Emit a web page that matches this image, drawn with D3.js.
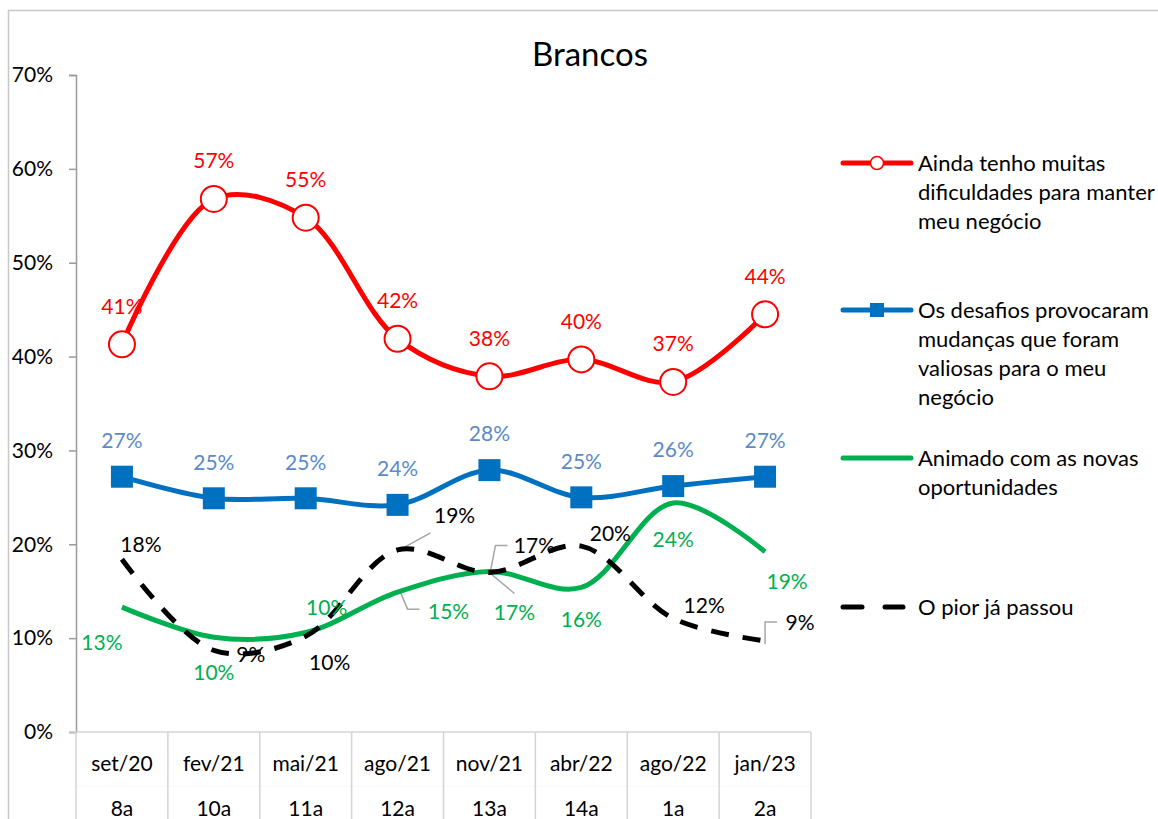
<!DOCTYPE html>
<html>
<head>
<meta charset="utf-8">
<script src="https://cdn.jsdelivr.net/npm/d3@7"></script>
<style>
    body { margin: 0; background: #fff; }
    text { font-family: Lato, "Open Sans", sans-serif; }
</style>
</head>
<body>
<script>
"use strict";

const periods = ["set/20", "fev/21", "mai/21", "ago/21", "nov/21", "abr/22", "ago/22", "jan/23"];
const waves   = ["8a", "10a", "11a", "12a", "13a", "14a", "1a", "2a"];
const yTicks  = [0, 10, 20, 30, 40, 50, 60, 70];

const dificuldades = [41.3, 56.8, 54.8, 41.9, 37.9, 39.7, 37.3, 44.5];
const desafios     = [27.2, 24.9, 24.9, 24.2, 27.9, 25.0, 26.2, 27.2];
const animado      = [13.3, 10.1, 10.6, 14.9, 17.1, 15.4, 24.4, 19.2];
const piorPassou   = [18.4, 8.7, 10.2, 19.4, 17.0, 19.8, 12.1, 9.7];

const dificuldadesLbl = [41, 57, 55, 42, 38, 40, 37, 44];
const desafiosLbl     = [27, 25, 25, 24, 28, 25, 26, 27];
const animadoLbl      = [13, 10, 10, 15, 17, 16, 24, 19];
const piorPassouLbl   = [18, 9, 10, 19, 17, 20, 12, 9];

// label offsets (layout only), [dx, dy] from the point
const offRed   = periods.map(() => [0, -38]);
const offBlue  = periods.map(() => [0, -36]);
const offGreen = [[-20, 35], [0, 35], [21, -25], [51, 19], [25, 41], [0, 32], [0, 37], [22, 30]];
const offBlack = [[19, -15], [37, 4], [24, 26], [57, -34], [45, -27], [29, -13], [31, -13], [35, -18]];

const W = 1158, H = 819;
const margin = { left: 76, top: 75, right: 347, bottom: 87 };
const fontSize = 21;

const svg = d3.select("body").append("svg")
    .attr("width", W)
    .attr("height", H);

// chart border
svg.append("path")
   .attr("d", `M8.5,${H} V10.5 H${W}`)
   .attr("fill", "none")
   .attr("stroke", "#c8c8c8")
   .attr("stroke-width", 1.5);

const x = d3.scaleBand()
            .domain(periods)
            .range([margin.left, W - margin.right]);
const y = d3.scaleLinear()
            .domain([0, 70])
            .range([H - margin.bottom, margin.top]);
const cx = d => x(d) + x.bandwidth() / 2;

svg.append("text")
   .attr("x", 590)
   .attr("y", 66)
   .attr("text-anchor", "middle")
   .attr("font-size", 33)
   .text("Brancos");

// y axis
const yAxis = svg.append("g")
    .attr("transform", `translate(${margin.left},0)`)
    .call(d3.axisLeft(y).tickValues(yTicks).tickSize(7).tickPadding(16)
             .tickFormat(d => d + "%"));
yAxis.select(".domain").attr("stroke", "#9a9a9a").attr("stroke-width", 1.5);
yAxis.selectAll(".tick line").attr("stroke", "#9a9a9a").attr("stroke-width", 1.5);
yAxis.selectAll(".tick text")
     .attr("font-size", fontSize)
     .attr("fill", "#000")
     .style("font-family", "Lato, sans-serif");

// category table under the plot
const base = y(0);
const table = svg.append("g");
table.append("line")
     .attr("x1", margin.left - 7).attr("x2", W - margin.right)
     .attr("y1", base).attr("y2", base)
     .attr("stroke", "#d4d4d4").attr("stroke-width", 1.5);
table.append("line")
     .attr("x1", margin.left).attr("x2", W - margin.right)
     .attr("y1", base + 54).attr("y2", base + 54)
     .attr("stroke", "#f6f6f6").attr("stroke-width", 1);
const edges = periods.map(p => x(p)).concat([x(periods[periods.length - 1]) + x.bandwidth()]);
table.selectAll("line.sep")
     .data(edges)
     .join("line")
     .attr("class", "sep")
     .attr("x1", d => d).attr("x2", d => d)
     .attr("y1", base).attr("y2", H)
     .attr("stroke", "#d4d4d4").attr("stroke-width", 1.5);
table.selectAll("text.per")
     .data(periods)
     .join("text")
     .attr("class", "per")
     .attr("x", cx)
     .attr("y", base + 39)
     .attr("text-anchor", "middle")
     .attr("font-size", fontSize)
     .text(d => d);
table.selectAll("text.wave")
     .data(waves)
     .join("text")
     .attr("class", "wave")
     .attr("x", (d, i) => cx(periods[i]))
     .attr("y", base + 84)
     .attr("text-anchor", "middle")
     .attr("font-size", fontSize)
     .text(d => d);

const line = d3.line()
               .x((d, i) => cx(periods[i]))
               .y(d => y(d))
               .curve(d3.curveCatmullRom.alpha(0.5));

const series = [
    { values: animado, color: "#00B050", dash: null },
    { values: piorPassou, color: "#000", dash: "18 14" },
    { values: desafios, color: "#0070C0", dash: null },
    { values: dificuldades, color: "#FF0000", dash: null }
];

// leader lines for moved labels
const leaderPaths = [
    { s: animado, i: 3, pts: [[2, -2], [10, 17], [22, 17]] },
    { s: animado, i: 4, pts: [[1, 2], [25, 22]] },
    { s: piorPassou, i: 3, pts: [[2, 0], [33, -17]] },
    { s: piorPassou, i: 4, pts: [[1, -1], [6, -27], [18, -27]] },
    { s: piorPassou, i: 7, pts: [[0, 3], [0, -19], [12, -19]] }
];
svg.append("g")
   .selectAll("path")
   .data(leaderPaths)
   .join("path")
   .attr("d", d => {
       const px = cx(periods[d.i]), py = y(d.s[d.i]);
       return "M" + d.pts.map(p => [px + p[0], py + p[1]].join(",")).join("L");
   })
   .attr("fill", "none")
   .attr("stroke", "#a6a6a6")
   .attr("stroke-width", 1.5);

svg.append("g")
   .selectAll("path")
   .data(series)
   .join("path")
   .attr("d", d => line(d.values))
   .attr("fill", "none")
   .attr("stroke", d => d.color)
   .attr("stroke-width", 5)
   .attr("stroke-dasharray", d => d.dash);

// markers
svg.append("g")
   .selectAll("rect")
   .data(desafios)
   .join("rect")
   .attr("x", (d, i) => cx(periods[i]) - 11)
   .attr("y", d => y(d) - 11)
   .attr("width", 22)
   .attr("height", 22)
   .attr("fill", "#0070C0");
svg.append("g")
   .selectAll("circle")
   .data(dificuldades)
   .join("circle")
   .attr("cx", (d, i) => cx(periods[i]))
   .attr("cy", d => y(d))
   .attr("r", 13)
   .attr("fill", "#fff")
   .attr("stroke", "#FF0000")
   .attr("stroke-width", 2);

// data labels
const labelSets = [
    { values: dificuldades, labels: dificuldadesLbl, off: offRed, color: "#FF0000" },
    { values: desafios, labels: desafiosLbl, off: offBlue, color: "#5B8AC8" },
    { values: animado, labels: animadoLbl, off: offGreen, color: "#00B050" },
    { values: piorPassou, labels: piorPassouLbl, off: offBlack, color: "#000" }
];
labelSets.forEach(set => {
    svg.append("g")
       .selectAll("text")
       .data(set.labels)
       .join("text")
       .attr("x", (d, i) => cx(periods[i]) + set.off[i][0])
       .attr("y", (d, i) => y(set.values[i]) + set.off[i][1])
       .attr("dy", "0.35em")
       .attr("text-anchor", "middle")
       .attr("font-size", fontSize)
       .attr("fill", set.color)
       .text(d => d + "%");
});

// legend
const legendItems = [
    { lines: ["Ainda tenho muitas", "dificuldades para manter", "meu negócio"], y: 163, color: "#FF0000", mark: "circle" },
    { lines: ["Os desafios provocaram", "mudanças que foram", "valiosas para o meu", "negócio"], y: 310, color: "#0070C0", mark: "square" },
    { lines: ["Animado com as novas", "oportunidades"], y: 458, color: "#00B050", mark: null },
    { lines: ["O pior já passou"], y: 607, color: "#000", mark: "dash" }
];
const legend = svg.append("g");
legendItems.forEach(item => {
    const g = legend.append("g").attr("transform", `translate(0,${item.y})`);
    if (item.mark === "dash") {
        g.append("line").attr("x1", 843).attr("x2", 862).attr("y1", 0).attr("y2", 0)
         .attr("stroke", "#000").attr("stroke-width", 5).attr("stroke-linecap", "round");
        g.append("line").attr("x1", 885).attr("x2", 903).attr("y1", 0).attr("y2", 0)
         .attr("stroke", "#000").attr("stroke-width", 5).attr("stroke-linecap", "round");
    } else {
        g.append("line").attr("x1", 843).attr("x2", 911).attr("y1", 0).attr("y2", 0)
         .attr("stroke", item.color).attr("stroke-width", 5).attr("stroke-linecap", "round");
    }
    if (item.mark === "circle") {
        g.append("circle").attr("cx", 877).attr("cy", 0).attr("r", 6.5)
         .attr("fill", "#fff").attr("stroke", item.color).attr("stroke-width", 1.5);
    }
    if (item.mark === "square") {
        g.append("rect").attr("x", 870).attr("y", -7).attr("width", 14).attr("height", 14)
         .attr("fill", item.color);
    }
    g.selectAll("text")
     .data(item.lines)
     .join("text")
     .attr("x", 918)
     .attr("y", (d, i) => i * 29)
     .attr("dy", "0.35em")
     .attr("font-size", 22)
     .text(d => d);
});
</script>
</body>
</html>
